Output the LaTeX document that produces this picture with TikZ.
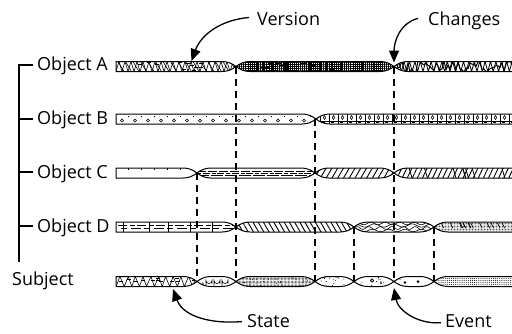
\documentclass[tikz,border=0pt]{standalone}
\usepackage{fontspec}
\setmainfont{Open Sans}
\newfontfamily\lblfont{Open Sans}
\usetikzlibrary{patterns.meta,arrows.meta}

% ribbon pieces: flat start, twisted middle piece, open-ended last piece
\newcommand\segfirst[2]{(116,#2-5) -- (#1-14,#2-5) .. controls (#1-8,#2-5) and (#1-4,#2-3) .. (#1,#2) .. controls (#1-4,#2+3) and (#1-8,#2+5) .. (#1-14,#2+5) -- (116,#2+5) -- cycle}
\newcommand\segmid[3]{(#1,#3) .. controls (#1+4,#3-3) and (#1+8,#3-5) .. (#1+14,#3-5) -- (#2-14,#3-5) .. controls (#2-8,#3-5) and (#2-4,#3-3) .. (#2,#3) .. controls (#2-4,#3+3) and (#2-8,#3+5) .. (#2-14,#3+5) -- (#1+14,#3+5) .. controls (#1+8,#3+5) and (#1+4,#3+3) .. (#1,#3) -- cycle}
\newcommand\seglast[2]{(#1,#2) .. controls (#1+4,#2-3) and (#1+8,#2-5) .. (#1+14,#2-5) -- (530,#2-5) -- (530,#2+5) -- (#1+14,#2+5) .. controls (#1+8,#2+5) and (#1+4,#2+3) .. (#1,#2) -- cycle}
% fill a piece with its texture, then outline it
\newcommand\piece[2]{\begin{scope}\clip #1;#2\end{scope}\draw[bar] #1;}

\def\ya{66.5}
\def\yb{119}
\def\yc{173}
\def\yd{227}
\def\ys{281.5}

\begin{document}
\begin{tikzpicture}[x=1pt,y=-1pt,
  bar/.style={line width=1pt},
  tex/.style={line width=.6pt},
  vline/.style={line width=1.8pt,dash pattern=on 7pt off 5pt},
  bracket/.style={line width=2.2pt},
  lbl/.style={inner sep=0pt,font=\lblfont\fontsize{18}{20}\selectfont},
  callout/.style={line width=1.3pt,-{Triangle[length=12pt,width=10pt]}}]
\useasboundingbox (0,0) rectangle (512,333);
\clip (0,0) rectangle (512,333);
\pgfmathsetseed{11}

% ---------- Object A ----------
\piece{\segfirst{236}{\ya}}{
  \draw[tex] (116,\ya+5) \foreach \i in {1,...,40}{ -- ({116+3*\i},{\ya+5-10*mod(\i,2)}) };
  \foreach \i in {0,...,16}{\draw[tex] ({118+7.5*\i},{\ya-5}) -- ++(6,10);}
  \foreach \i in {1,...,12}{\pgfmathsetmacro\xx{118+rnd*110}\draw[line width=.8pt] (\xx,{\ya-5+rnd*10}) -- ++(4,0);}
}
\piece{\segmid{236}{394}{\ya}}{
  \fill[pattern={Hatch[angle=0,distance=2.1pt,line width=.6pt]}] (230,\ya-6) rectangle (400,\ya+6);
  \foreach \i in {1,...,32}{\pgfmathsetmacro\xx{238+rnd*154}\draw[line width=1pt] (\xx,\ya-5) -- (\xx,\ya+5);}
  \foreach \i in {1,...,14}{\pgfmathsetmacro\xx{238+rnd*150}\draw[line width=1.4pt] (\xx,{\ya-3+rnd*6}) -- ++(6,0);}
}
\piece{\seglast{394}{\ya}}{
  \draw[line width=1pt] (394,\ya) \foreach \i in {1,...,60}{ -- ({394+2*\i},{\ya+(2*rnd-1)*6}) };
  \draw[line width=.8pt] (396,\ya+5) \foreach \i in {1,...,45}{ -- ({396+2.7*\i},{\ya+5-10*mod(\i,2)}) };
}

% ---------- Object B ----------
\piece{\segfirst{316}{\yb}}{
  \foreach \k in {0,...,15}{
    \draw[line width=.6pt] ({122+13*\k},{\yb+1.5}) circle (1.5);
    \fill ({128.5+13*\k},{\yb-2.5}) circle (.7);}
}
\piece{\seglast{316}{\yb}}{
  \foreach \k in {0,...,22}{
    \draw[line width=.6pt] ({320+9*\k},{\yb-5}) -- ++(0,10);
    \draw[line width=.55pt] ({324.5+9*\k},{\yb-1.5}) ellipse (1.3 and 1.9);
    \draw[line width=.7pt] ({322+9*\k},{\yb+3.5}) -- ++(3,0);}
  \draw[line width=.5pt] (316,\yb+2) -- (520,\yb+2);
}

% ---------- Object C ----------
\piece{\segfirst{197}{\yc}}{
  \foreach \k in {0,...,5}{\draw[line width=.8pt] ({128+13*\k},{\yc-5}) -- ++(0,2);}
}
\piece{\segmid{197}{315}{\yc}}{
  \draw[line width=.55pt,dash pattern=on 9pt off 2pt] (197,\yc-2.2) -- (315,\yc-2.2);
  \draw[line width=.55pt,dash pattern=on 4pt off 1.5pt on 7pt off 2pt] (197,\yc) -- (315,\yc);
  \draw[line width=.55pt,dash pattern=on 12pt off 2pt] (197,\yc+2.2) -- (315,\yc+2.2);
}
\piece{\segmid{315}{394}{\yc}}{
  \fill[pattern={Lines[angle=60,distance=5pt,line width=.9pt]}] (310,\yc-6) rectangle (400,\yc+6);
}
\piece{\seglast{394}{\yc}}{
  \fill[pattern={Lines[angle=65,distance=4.6pt,line width=.9pt]}] (390,\yc-6) rectangle (520,\yc+6);
  \foreach \i in {1,...,8}{\pgfmathsetmacro\xx{400+rnd*110}\draw[line width=.8pt] (\xx,\yc-5) -- ++(3,10);}
}

% ---------- Object D ----------
\piece{\segfirst{236}{\yd}}{
  \draw[line width=.7pt,dash pattern=on 9pt off 3pt on 5pt off 2pt] (118,\yd-1.6) -- (236,\yd-1.6);
  \draw[line width=.7pt,dash pattern=on 6pt off 4pt on 10pt off 3pt] (121,\yd+1.6) -- (236,\yd+1.6);
  \foreach \x in {123,149,168,190,212}{\draw[line width=.7pt] (\x,\yd-5) -- ++(0,10);}
}
\piece{\segmid{236}{354}{\yd}}{
  \fill[pattern={Lines[angle=-60,distance=4.5pt,line width=.9pt]}] (230,\yd-6) rectangle (360,\yd+6);
}
\piece{\segmid{354}{434}{\yd}}{
  \foreach \o/\a/\f in {-3.5/1.2/25,-1.5/1.6/19,1/1.4/31,3.5/1.2/22}{
    \draw[line width=.6pt] plot[domain=354:434,samples=80,smooth] (\x,{\yd+\o+\a*sin(\f*\x)});}
}
\piece{\seglast{434}{\yd}}{
  \fill[pattern={Dots[radius=.4pt,distance=1.5pt]}] (430,\yd-6) rectangle (520,\yd+6);
  \foreach \i in {1,...,14}{\pgfmathsetmacro\xx{440+rnd*75}\draw[line width=.7pt] (\xx,\yd-4) -- ++(2.5,5);}
}

% ---------- Subject ----------
\piece{\segfirst{197}{\ys}}{
  \draw[tex] (116,\ys+5) \foreach \i in {1,...,22}{ -- ({116+3.8*\i+rnd},{\ys+5-10*mod(\i,2)}) };
  \foreach \i in {1,...,12}{\pgfmathsetmacro\xx{118+rnd*75}\draw[line width=.7pt] (\xx,{\ys-3+rnd*6}) -- ++(4,0);}
}
\piece{\segmid{197}{236}{\ys}}{
  \foreach \x in {206,214,222}{\draw[line width=.6pt] (\x,\ys+4) -- (\x,\ys-1) arc (180:0:3) -- ++(0,3);}
  \draw[line width=.6pt] (202,\ys+1) arc (-90:90:1.5);
}
\piece{\segmid{236}{315}{\ys}}{
  \fill[pattern={Dots[radius=.4pt,distance=1.4pt]}] (230,\ys-6) rectangle (320,\ys+6);
  \foreach \i in {1,...,30}{\fill ({240+rnd*72},{\ys-4+rnd*8}) circle (.5);}
}
\piece{\segmid{315}{354}{\ys}}{
  \foreach \i in {1,...,16}{\fill ({320+rnd*30},{\ys-4+rnd*8}) circle (.5);}
}
\piece{\segmid{354}{394}{\ys}}{
  \foreach \i in {1,...,12}{\fill ({360+rnd*30},{\ys-4+rnd*8}) circle (.5);}
  \draw[line width=.6pt] (372,\ys-1) circle (1.6);
  \fill (381,\ys+1.5) circle (1);
}
\piece{\segmid{394}{434}{\ys}}{
  \fill (405,\ys+1) circle (1.4);
  \fill (418,\ys) circle (1.5);
  \fill (400,\ys-2) circle (.5);
}
\piece{\seglast{434}{\ys}}{
  \fill[pattern={Dots[radius=.5pt,distance=2.1pt]}] (430,\ys-6) rectangle (520,\ys+6);
}

% ---------- crossing points ----------
\coordinate (a1) at (236,\ya);
\coordinate (a2) at (394,\ya);
\coordinate (b1) at (315,\yb);
\coordinate (c1) at (197,\yc);
\coordinate (d2) at (354,\yd);
\coordinate (d3) at (434,\yd);
\coordinate (s1) at (197,\ys);
\coordinate (s2) at (236,\ys);
\coordinate (s3) at (315,\ys);
\coordinate (s4) at (354,\ys);
\coordinate (s5) at (394,\ys);
\coordinate (s6) at (434,\ys);

\draw[vline] (a1) -- (s2);
\draw[vline] (a2) -- (s5);
\draw[vline] (b1) -- (s3);
\draw[vline] (c1) -- (s1);
\draw[vline] (d2) -- (s4);
\draw[vline] (d3) -- (s6);

% ---------- row labels and bracket ----------
\node[lbl,anchor=base west] (oa) at (37,70.5) {Object A};
\node[lbl,anchor=base west] (ob) at (37,124) {Object B};
\node[lbl,anchor=base west] (oc) at (37,178) {Object C};
\node[lbl,anchor=base west] (od) at (37,232) {Object D};
\node[lbl,anchor=base west] (subj) at (12,285) {Subject};

\coordinate (brtop) at (19,65);
\coordinate (brbot) at (19,262);
\draw[bracket] ([xshift=-4pt]oa.west |- brtop) -- (brtop) -- (brbot);
\foreach \n/\y in {ob/119,oc/172,od/226}{\draw[bracket] (19,\y) -- ([xshift=-4pt]\n.west |- 0,\y);}

% ---------- callouts ----------
\node[lbl,anchor=base west] (ver) at (257,25) {Version};
\node[lbl,anchor=base west] (chg) at (428,25) {Changes};
\node[lbl,anchor=base west] (st) at (247,327) {State};
\node[lbl,anchor=base west] (ev) at (445,327) {Event};

\coordinate (vertip) at (191.5,61);
\coordinate (chgtip) at (394,62.5);
\coordinate (sttip) at (173,289);
\coordinate (evtip) at (394,288);

\draw[callout] ([xshift=-8pt,yshift=1pt]ver.west) to[out=185,in=70] (vertip);
\draw[callout] ([xshift=-10pt,yshift=2pt]chg.west) to[out=195,in=90] (chgtip);
\draw[callout] ([xshift=-5pt,yshift=-1pt]st.west) to[out=185,in=-70] (sttip);
\draw[callout] ([xshift=-4pt,yshift=-2pt]ev.west) to[out=185,in=-80] (evtip);
\end{tikzpicture}
\end{document}
